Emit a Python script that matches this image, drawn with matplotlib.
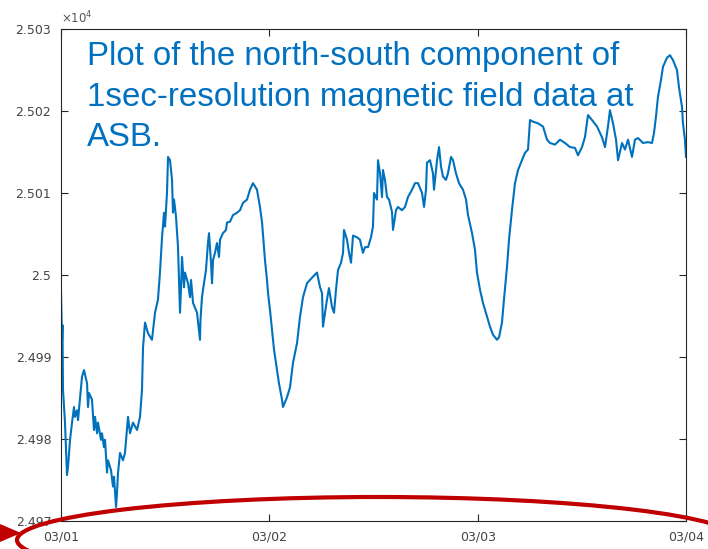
import matplotlib
matplotlib.use("Agg")
import matplotlib.pyplot as plt
from matplotlib.patches import Ellipse, Polygon

# Time (hours since 03/01 00:00) and north-south component (nT)
hours = [0.00, 0.12, 0.17, 0.23, 0.35, 0.46, 0.69, 0.81, 1.04, 1.27, 1.50, 1.61, 1.84, 1.96,
         2.42, 2.65, 3.00, 3.11, 3.23, 3.57, 3.80, 3.92, 4.15, 4.26, 4.61, 4.72, 4.95, 5.07,
         5.30, 5.41, 5.76, 5.99, 6.11, 6.34, 6.45, 6.57, 6.80, 7.14, 7.37, 7.72, 7.95, 8.29,
         8.76, 9.10, 9.33, 9.45, 9.68, 10.02, 10.48, 10.83, 11.17, 11.40, 11.64, 11.87, 11.98,
         12.21, 12.33, 12.56, 12.79, 12.90, 13.02, 13.25, 13.48, 13.71, 13.82, 13.94, 14.17,
         14.28, 14.63, 14.86, 14.98, 15.21, 15.67, 16.01, 16.07, 16.24, 16.36, 16.70, 16.93,
         17.05, 17.28, 17.40, 17.51, 17.74, 17.97, 18.20, 18.32, 18.66, 19.01, 19.12, 19.47,
         19.81, 20.28, 20.62, 20.97, 21.43, 21.77, 22.12, 22.58, 22.92, 23.16, 23.50, 23.73,
         23.85, 24.08, 24.31, 24.54, 24.88, 25.11, 25.46, 25.57, 26.04, 26.38, 26.73, 27.19,
         27.53, 27.88, 28.34, 28.68, 29.03, 29.49, 29.84, 30.07, 30.18, 30.64, 30.87, 31.22,
         31.45, 31.68, 31.91, 32.26, 32.49, 32.60, 32.95, 33.18, 33.41, 33.64, 34.10, 34.44,
         34.79, 35.02, 35.37, 35.71, 35.94, 36.06, 36.40, 36.52, 36.75, 36.98, 37.09, 37.32,
         37.56, 37.79, 38.13, 38.25, 38.59, 38.82, 39.28, 39.63, 39.97, 40.44, 40.78, 41.13,
         41.59, 41.82, 42.05, 42.16, 42.51, 42.85, 42.97, 43.32, 43.55, 43.78, 44.01, 44.35,
         44.58, 44.93, 45.16, 45.50, 45.85, 46.31, 46.66, 46.89, 47.35, 47.69, 47.92, 48.27,
         48.61, 49.08, 49.42, 49.77, 50.23, 50.46, 50.80, 51.03, 51.38, 51.61, 51.95, 52.30,
         52.65, 53.11, 53.45, 53.80, 54.03, 54.37, 54.95, 55.53, 55.99, 56.33, 56.91, 57.48,
         58.06, 58.64, 59.21, 59.56, 60.02, 60.36, 60.71, 61.17, 61.75, 62.32, 62.67, 63.01,
         63.24, 63.59, 63.94, 64.17, 64.63, 64.97, 65.32, 65.78, 66.12, 66.47, 67.05, 67.62,
         68.08, 68.31, 68.54, 68.77, 69.12, 69.35, 69.81, 70.16, 70.50, 70.96, 71.19, 71.54,
         71.65, 71.88, 72.00]

bx_nT = [24997.8, 24992.1, 24993.9, 24986.0, 24983.9, 24982.0, 24975.6, 24976.6, 24979.9,
         24982.0, 24983.9, 24982.7, 24983.5, 24982.3, 24987.6, 24988.4, 24986.8, 24983.9,
         24985.6, 24984.8, 24981.1, 24982.7, 24980.7, 24982.0, 24979.9, 24980.7, 24979.0,
         24979.9, 24975.9, 24977.4, 24976.2, 24974.2, 24975.4, 24971.7, 24973.4, 24975.9,
         24978.3, 24977.4, 24978.3, 24982.7, 24980.7, 24982.0, 24981.1, 24982.7, 24986.0,
         24991.2, 24994.2, 24992.9, 24992.1, 24995.4, 24997.0, 25000.3, 25004.6, 25007.6,
         25005.9, 25010.0, 25014.4, 25014.0, 25011.6, 25007.6, 25009.2, 25007.1, 25003.4,
         24995.4, 24998.2, 25002.2, 24998.5, 25000.3, 24999.0, 24997.3, 24999.4, 24996.6,
         24995.4, 24992.1, 24994.5, 24997.3, 24998.2, 25000.6, 25003.9, 25005.1, 25001.5,
         24999.0, 25001.8, 25002.7, 25003.9, 25002.2, 25004.3, 25005.1, 25005.5, 25006.4,
         25006.5, 25007.3, 25007.6, 25007.9, 25008.8, 25009.2, 25010.4, 25011.2, 25010.4,
         25008.3, 25006.4, 25001.8, 24999.4, 24997.8, 24995.7, 24993.3, 24990.9, 24988.4,
         24986.8, 24984.8, 24983.9, 24985.1, 24986.3, 24989.3, 24991.7, 24994.9, 24997.3,
         24999.0, 24999.4, 24999.8, 25000.3, 24998.5, 24997.8, 24993.7, 24997.0, 24998.4,
         24996.1, 24995.4, 24998.2, 25000.6, 25001.5, 25002.7, 25005.5, 25004.3, 25002.7,
         25001.5, 25004.8, 25004.6, 25004.3, 25002.7, 25003.4, 25003.4, 25004.6, 25005.9,
         25010.0, 25009.2, 25014.0, 25012.4, 25009.5, 25012.8, 25011.6, 25009.5, 25009.2,
         25007.7, 25005.5, 25007.9, 25008.3, 25007.9, 25008.3, 25009.5, 25010.4, 25011.2,
         25011.2, 25010.0, 25008.3, 25010.4, 25013.7, 25014.0, 25012.4, 25010.4, 25014.0,
         25015.6, 25013.2, 25012.0, 25011.6, 25012.4, 25014.4, 25014.0, 25012.4, 25011.2,
         25010.4, 25009.2, 25007.3, 25005.1, 25003.1, 25000.3, 24998.2, 24996.6, 24994.9,
         24993.7, 24992.7, 24992.1, 24992.4, 24994.2, 24997.0, 25001.0, 25004.3, 25007.9,
         25011.2, 25012.8, 25014.0, 25014.9, 25015.3, 25018.9, 25018.7, 25018.5, 25018.1,
         25016.5, 25016.1, 25015.9, 25016.5, 25016.1, 25015.6, 25015.5, 25014.6, 25015.6,
         25016.8, 25019.5, 25018.9, 25018.1, 25016.8, 25015.6, 25018.1, 25020.1, 25018.5,
         25016.5, 25014.0, 25016.1, 25015.3, 25016.5, 25014.4, 25016.5, 25016.7, 25016.1,
         25016.2, 25016.1, 25017.3, 25019.3, 25021.7, 25023.8, 25025.4, 25026.5, 25026.8,
         25026.2, 25025.0, 25022.9, 25020.5, 25018.5, 25016.5, 25014.4]

x_ticks = [0, 24, 48, 72]
x_tick_labels = ["03/01", "03/02", "03/03", "03/04"]
y_ticks = [2.497, 2.498, 2.499, 2.5, 2.501, 2.502, 2.503]
y_tick_labels = ["2.497", "2.498", "2.499", "2.5", "2.501", "2.502", "2.503"]
note = "Plot of the north-south component of\n1sec-resolution magnetic field data at\nASB."

W, H = 708, 549
fig = plt.figure(figsize=(W / 100, H / 100), dpi=100)
ax = fig.add_axes([61 / W, 1 - 521 / H, 625 / W, 492 / H])

yvals = [v / 1e4 for v in bx_nT]
ax.plot(hours, yvals, color="#0072BD", lw=1.5)
ax.set_xlim(0, 72)
ax.set_ylim(2.497, 2.503)

axcol = "#262626"
ax.set_xticks(x_ticks)
ax.set_xticklabels(x_tick_labels)
ax.set_yticks(y_ticks)
ax.set_yticklabels(y_tick_labels)
ax.tick_params(direction="in", length=5, width=0.8, colors=axcol,
               labelsize=9, top=True, right=True, pad=7)
for lab in ax.get_xticklabels() + ax.get_yticklabels():
    lab.set_color("#444444")
for s in ax.spines.values():
    s.set_color(axcol)
    s.set_linewidth(0.8)

fig.text(61 / W, 1 - 18 / H, r"$\times 10^4$", fontsize=8.5, color="#555555",
         ha="left", va="center")

fig.text(87 / W, 1 - 41 / H, note,
         fontsize=23.8, color="#0070C0", family="Liberation Sans",
         ha="left", va="top", linespacing=1.4)

# Overlay for the red annotation ellipse and arrow
ov = fig.add_axes([0, 0, 1, 1], facecolor="none")
ov.set_xlim(0, W)
ov.set_ylim(H, 0)
ov.axis("off")
ov.add_patch(Ellipse((378, 540), 722, 86, fill=False, edgecolor="#C00000",
                     lw=3.0, clip_on=False))
ov.add_patch(Polygon([(0, 524), (0, 542), (21, 533)], closed=True,
                     facecolor="#C00000", edgecolor="none", clip_on=False))

fig.savefig("out.png", dpi=100)
